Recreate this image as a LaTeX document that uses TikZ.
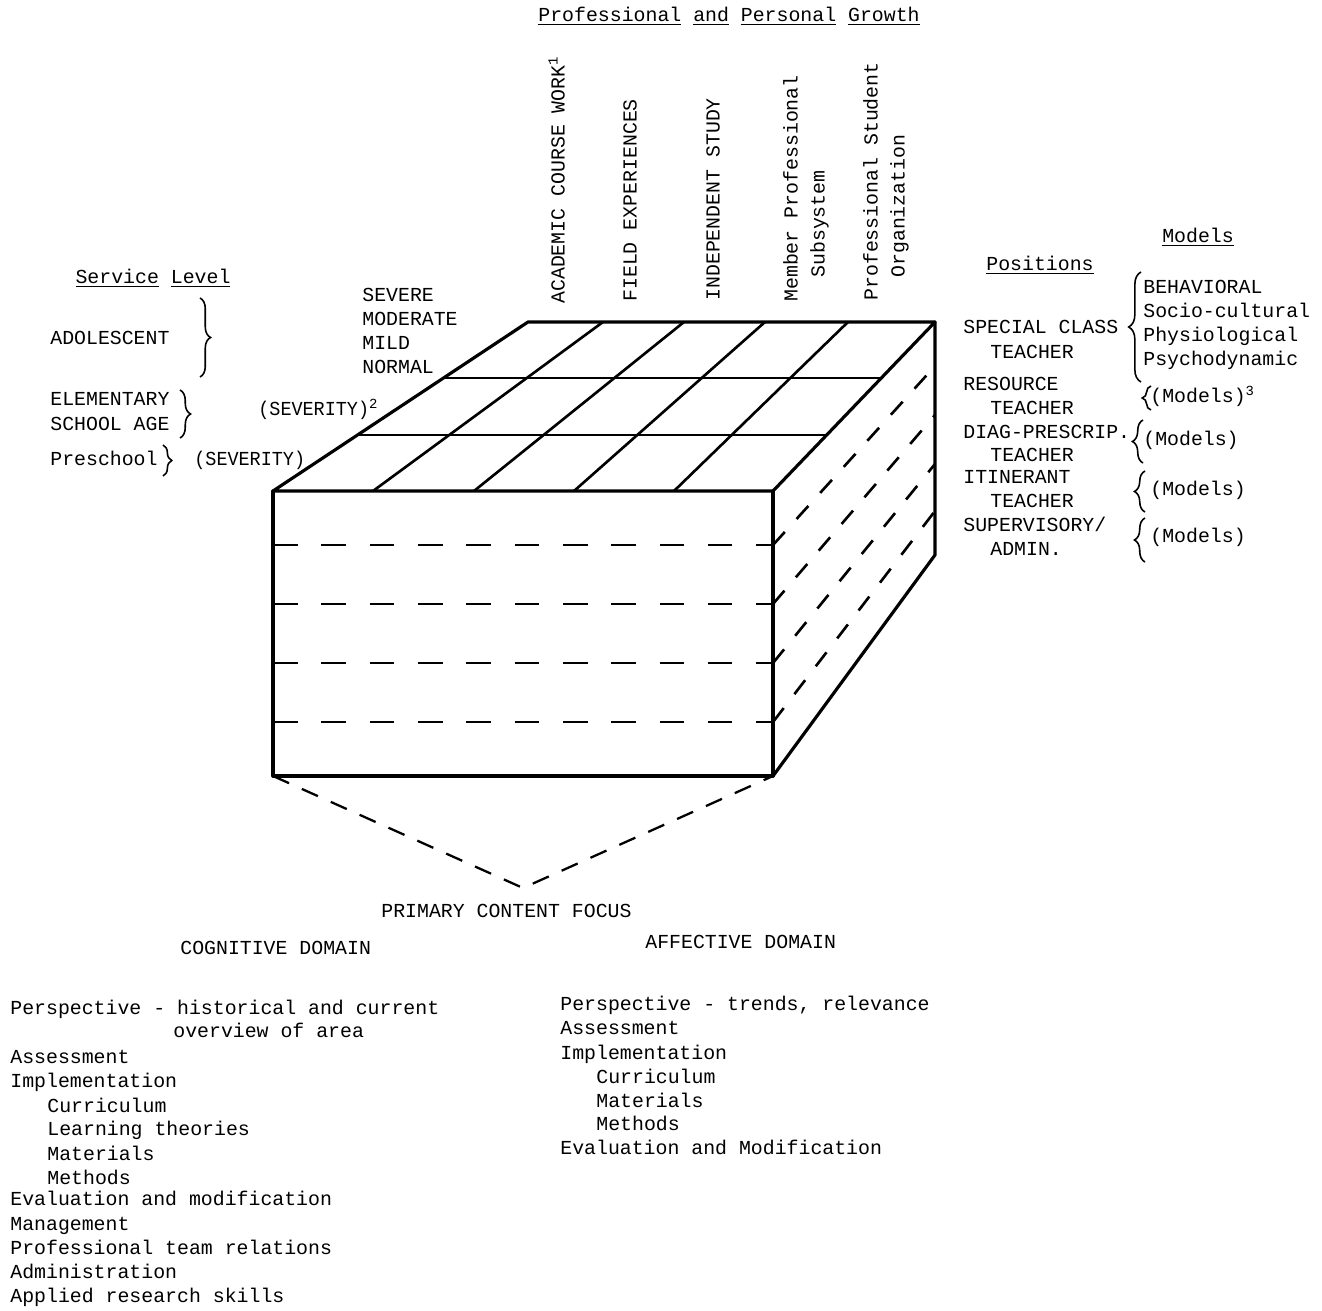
\documentclass[tikz,border=0pt]{standalone}
\usepackage{fontspec}
\usepackage{graphicx}
\setmainfont{Liberation Mono}
\usetikzlibrary{decorations.pathreplacing}
\begin{document}
\begin{tikzpicture}[x=0.02cm,y=-0.02cm]
\tikzset{
  lbl/.style={inner sep=0pt, anchor=west, font=\fontsize{11.3}{13.6}\selectfont, text height=0.72em, text depth=0.2em},
  clbl/.style={lbl, anchor=center},
  vlbl/.style={lbl, rotate=90},
  cubeedge/.style={line width=1.8pt, line join=round, line cap=round},
  gridline/.style={line width=1.5pt, line cap=round},
  depthline/.style={line width=1.7pt, line cap=round},
  frontdash/.style={line width=1.5pt, dash pattern=on 14pt off 13.5pt},
  sidedash/.style={line width=1.5pt, dash pattern=on 10pt off 10pt},
  tridash/.style={line width=1.3pt, dash pattern=on 10pt off 8pt},
  br/.style={decorate, decoration={brace, amplitude=6pt}, line width=0.9pt},
}
\useasboundingbox (0,0) rectangle (1322,1311);

% ---- cube corners ----
\coordinate (FL) at (273,491);
\coordinate (FR) at (773,491);
\coordinate (BL) at (528,322);
\coordinate (BR) at (935,322);
\coordinate (FLb) at (273,776);
\coordinate (FRb) at (773,776);
\coordinate (BRb) at (935,555);
\coordinate (apex) at (523,888);

% top grid
\foreach \i/\f/\b in {1/373/603, 2/474/684, 3/574/765, 4/674/848}{
  \coordinate (tf\i) at (\f,491);
  \coordinate (tb\i) at (\b,322);
  \draw[gridline] (tf\i) -- (tb\i);
}
\coordinate (d1l) at (444,378); \coordinate (d1r) at (881,378);
\coordinate (d2l) at (358,435); \coordinate (d2r) at (827,435);
\draw[depthline] (d1l) -- (d1r);
\draw[depthline] (d2l) -- (d2r);

% front dashed lines and their continuation on the side face
\foreach \i/\y/\yb in {1/545/366, 2/604/415, 3/663/464, 4/722/511}{
  \coordinate (fl\i) at (273,\y);
  \coordinate (fr\i) at (773,\y);
  \coordinate (sb\i) at (935,\yb);
  \draw[frontdash] (fl\i) -- (fr\i);
  \draw[sidedash] (fr\i) -- (sb\i);
}

% cube edges
\draw[cubeedge] (FL) -- (BL) -- (BR) -- (FR) -- cycle;
\draw[cubeedge] (FL) -- (FLb) -- (FRb) -- (FR);
\draw[cubeedge] (BR) -- (BRb) -- (FRb);

% bottom dashed triangle
\draw[tridash] (FLb) -- (apex) -- (FRb);

% ---- top labels ----
\node[clbl] (title) at (729,17) {\underline{Professional} \underline{and} \underline{Personal} \underline{Growth}};
\node[vlbl] (acad) at (560,304) {ACADEMIC COURSE WORK\textsuperscript{1}};
\node[vlbl] (field) at (632,302) {FIELD EXPERIENCES};
\node[vlbl] (indep) at (715,301) {INDEPENDENT STUDY};
\node[vlbl] (memb1) at (793,302) {Member Professional};
\node[vlbl] (memb2) at (820,278) {Subsystem};
\node[vlbl] (prof1) at (873,301) {Professional Student};
\node[vlbl] (prof2) at (900,278) {Organization};

% ---- severity ----
\node[lbl] (sev) at (362,297) {SEVERE};
\node[lbl] (mod) at (362,321) {MODERATE};
\node[lbl] (mild) at (362,345) {MILD};
\node[lbl] (norm) at (362,369) {NORMAL};
\node[lbl] (sevA) at (258,411) {\scalebox{0.93}[1]{(SEVERITY)}\textsuperscript{2}};

% ---- service level ----
\node[clbl] (svc) at (153,279) {\underline{Service} \underline{Level}};
\node[lbl] (adol) at (50,340) {ADOLESCENT};
\draw[br] (200,298) -- (200,377);
\node[lbl] (elem1) at (50,401) {ELEMENTARY};
\node[lbl] (elem2) at (50,426) {SCHOOL AGE};
\draw[br] (180,390) -- (180,438);
\node[lbl] (pre) at (50,461) {Preschool};
\draw[br,decoration={brace,amplitude=5pt}] (163,445) -- (163,476);
\node[lbl] (sevB) at (194,461) {\scalebox{0.93}[1]{(SEVERITY)}};

% ---- positions and models ----
\node[clbl] (modhd) at (1198,238) {\underline{Models}};
\node[clbl] (poshd) at (1040,266) {\underline{Positions}};
\node[lbl] (spc1) at (963,329) {SPECIAL CLASS};
\node[lbl] (spc2) at (990,354) {TEACHER};
\draw[br,decoration={brace,amplitude=7pt}] (1141,382) -- (1141,272);
\node[lbl] (beh) at (1143,289) {BEHAVIORAL};
\node[lbl] (soc) at (1143,313) {Socio-cultural};
\node[lbl] (phy) at (1143,337) {Physiological};
\node[lbl] (psy) at (1143,361) {Psychodynamic};

\node[lbl] (res1) at (963,386) {RESOURCE};
\node[lbl] (res2) at (990,410) {TEACHER};
\draw[br,decoration={brace,amplitude=5pt}] (1151,410) -- (1151,386);
\node[lbl] (resm) at (1150,398) {(Models)\textsuperscript{3}};

\node[lbl] (dia1) at (963,434) {DIAG-PRESCRIP.};
\node[lbl] (dia2) at (990,457) {TEACHER};
\draw[br] (1143,463) -- (1143,420);
\node[lbl] (diam) at (1143,441) {(Models)};

\node[lbl] (iti1) at (963,479) {ITINERANT};
\node[lbl] (iti2) at (990,503) {TEACHER};
\draw[br] (1145,512) -- (1145,471);
\node[lbl] (itim) at (1150,491) {(Models)};

\node[lbl] (sup1) at (963,527) {SUPERVISORY/};
\node[lbl] (sup2) at (990,551) {ADMIN.};
\draw[br] (1145,562) -- (1145,518);
\node[lbl] (supm) at (1150,538) {(Models)};

% ---- bottom ----
\node[lbl] (pcf) at (381,913) {PRIMARY CONTENT FOCUS};
\node[lbl] (cog) at (180,950) {COGNITIVE DOMAIN};
\node[lbl] (aff) at (645,944) {AFFECTIVE DOMAIN};

\node[lbl] (c1) at (10,1010) {Perspective - historical and current};
\node[lbl] (c2) at (173,1033) {overview of area};
\node[lbl] (c3) at (10,1059) {Assessment};
\node[lbl] (c4) at (10,1083) {Implementation};
\node[lbl] (c5) at (47,1108) {Curriculum};
\node[lbl] (c6) at (47,1131) {Learning theories};
\node[lbl] (c7) at (47,1156) {Materials};
\node[lbl] (c8) at (47,1180) {Methods};
\node[lbl] (c9) at (10,1201) {Evaluation and modification};
\node[lbl] (c10) at (10,1226) {Management};
\node[lbl] (c11) at (10,1250) {Professional team relations};
\node[lbl] (c12) at (10,1274) {Administration};
\node[lbl] (c13) at (10,1298) {Applied research skills};

\node[lbl] (a1) at (560,1006) {Perspective - trends, relevance};
\node[lbl] (a2) at (560,1030) {Assessment};
\node[lbl] (a3) at (560,1055) {Implementation};
\node[lbl] (a4) at (596,1079) {Curriculum};
\node[lbl] (a5) at (596,1103) {Materials};
\node[lbl] (a6) at (596,1126) {Methods};
\node[lbl] (a7) at (560,1150) {Evaluation and Modification};
\end{tikzpicture}
\end{document}
